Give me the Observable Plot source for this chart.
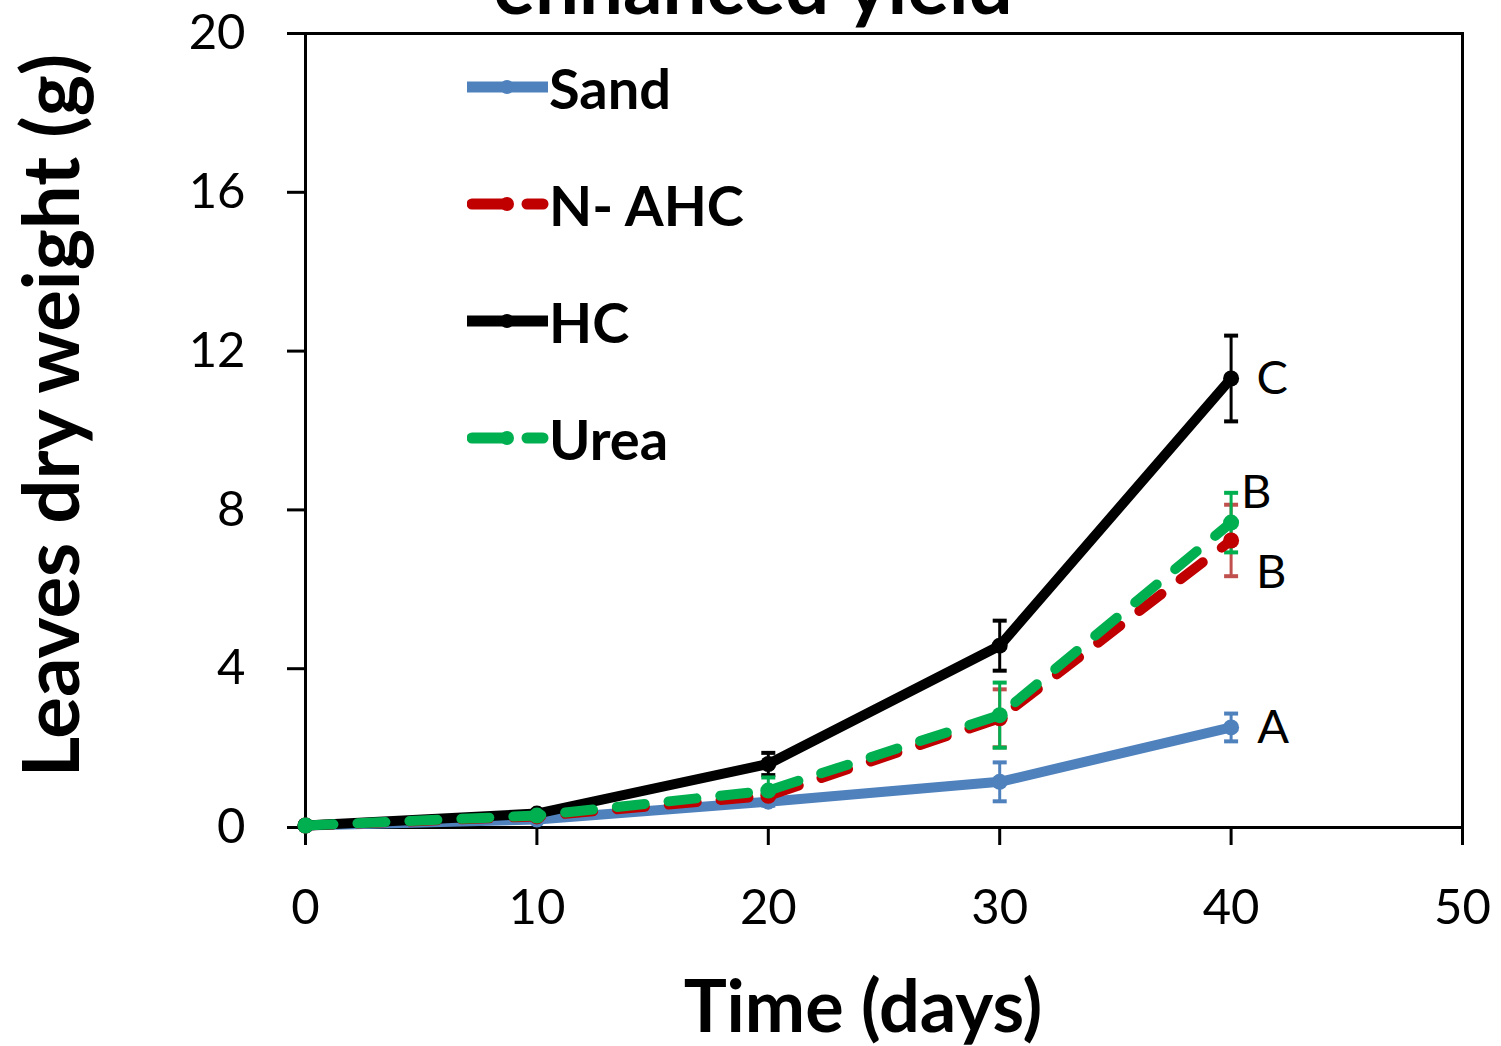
<!DOCTYPE html>
<html>
<head>
<meta charset="utf-8">
<script src="https://cdn.jsdelivr.net/npm/d3@7"></script>
<script src="https://cdn.jsdelivr.net/npm/@observablehq/plot@0.6"></script>
<style>
  body { margin: 0; background: #fff; }
  #wrap { position: relative; width: 1501px; height: 1046px; }
  #legend { position: absolute; left: 467px; top: 54px; font-family: Lato, sans-serif; font-weight: 700; font-size: 56px; }
  .row { display: flex; align-items: center; height: 66px; margin-bottom: 51px; }
  .row svg { display: block; }
</style>
</head>
<body>
<div id="wrap"><div id="chart"></div><div id="legend"></div></div>
<script>
const days = [0, 10, 20, 30, 40];
const seriesNames = ["Sand", "N- AHC", "HC", "Urea"];
const seriesColors = ["#4f81bd", "#c00000", "#000000", "#00b050"];
const errColors = ["#4f81bd", "#c0504d", "#000000", "#00b050"];
const dashed = [false, true, false, true];
const sand = [0.05, 0.2, 0.65, 1.15, 2.52];
const sandErr = [0.02, 0.05, 0.1, 0.49, 0.35];
const nahc = [0.05, 0.28, 0.8, 2.75, 7.23];
const nahcErr = [0.02, 0.05, 0.15, 0.73, 0.9];
const hc = [0.05, 0.35, 1.6, 4.58, 11.31];
const hcErr = [0.02, 0.05, 0.28, 0.63, 1.08];
const urea = [0.05, 0.3, 0.93, 2.83, 7.68];
const ureaErr = [0.02, 0.05, 0.33, 0.82, 0.75];
const letterText = ["C", "B", "B", "A"];
const letterY = [11.31, 8.42, 6.42, 2.5];
const letterDx = [41, 25, 40, 42];
const xTicks = [0, 10, 20, 30, 40, 50];
const yTicks = [0, 4, 8, 12, 16, 20];

const values = [sand, nahc, hc, urea];
const errs = [sandErr, nahcErr, hcErr, ureaErr];
const rows = [];
seriesNames.forEach((s, i) => days.forEach((d, j) => rows.push({
  series: s, idx: i, day: d, v: values[i][j], lo: values[i][j] - errs[i][j], hi: values[i][j] + errs[i][j]
})));
const letters = letterText.map((t, i) => ({t, y: letterY[i], dx: letterDx[i]}));

const cap = { draw(ctx) { ctx.moveTo(-7, 0); ctx.lineTo(7, 0); } };

const marks = [];
seriesNames.forEach((s, i) => {
  const d = rows.filter(r => r.idx === i);
  marks.push(Plot.ruleX(d, {x: "day", y1: "lo", y2: "hi", stroke: errColors[i], strokeWidth: 3}));
  marks.push(Plot.dot(d, {x: "day", y: "lo", symbol: cap, r: 7, stroke: errColors[i], strokeWidth: 4, fill: "none"}));
  marks.push(Plot.dot(d, {x: "day", y: "hi", symbol: cap, r: 7, stroke: errColors[i], strokeWidth: 4, fill: "none"}));
});
seriesNames.forEach((s, i) => {
  const d = rows.filter(r => r.idx === i);
  marks.push(Plot.line(d, {x: "day", y: "v", stroke: seriesColors[i], strokeWidth: 10,
    strokeLinecap: "round", strokeLinejoin: "round", strokeDasharray: dashed[i] ? "28,24" : null}));
  marks.push(Plot.dot(d, {x: "day", y: "v", r: 8, fill: seriesColors[i], stroke: "none"}));
});

const chart = Plot.plot({
  width: 1501, height: 1046,
  marginLeft: 305, marginRight: 39, marginTop: 33, marginBottom: 219,
  style: {fontFamily: "Lato, sans-serif", background: "#fff", color: "#000"},
  x: {domain: [0, 50]},
  y: {domain: [0, 20]},
  marks: [
    Plot.frame({stroke: "#000", strokeWidth: 3}),
    Plot.axisX({ticks: xTicks, tickSize: 18, tickPadding: 44, strokeWidth: 3, fontSize: 49, label: null, tickFormat: d => String(d)}),
    Plot.axisY({ticks: yTicks, tickSize: 18, tickPadding: 42, strokeWidth: 3, fontSize: 49, label: null, tickFormat: d => String(d)}),
    ...marks,
    ...letters.map(l => Plot.text([l], {x: () => 40, y: "y", text: "t", dx: l.dx, fontSize: 47, textAnchor: "middle", lineAnchor: "middle"})),
    Plot.text(["enhanced yield"], {frameAnchor: "top", dx: -131, dy: -20, textAnchor: "middle", lineAnchor: "bottom", fontSize: 78, fontWeight: 700}),
    Plot.text(["Leaves dry weight (g)"], {frameAnchor: "left", rotate: -90, dx: -251, dy: -15, textAnchor: "middle", lineAnchor: "middle", fontSize: 78, fontWeight: 700}),
    Plot.text(["Time (days)"], {frameAnchor: "bottom", dx: -21, dy: 181, textAnchor: "middle", lineAnchor: "middle", fontSize: 72, fontWeight: 700})
  ]
});
document.getElementById("chart").appendChild(chart);

const legend = d3.select("#legend");
seriesNames.forEach((s, i) => {
  const row = legend.append("div").attr("class", "row");
  const svg = row.append("svg").attr("width", 82).attr("height", 24);
  if (dashed[i]) {
    svg.append("line").attr("x1", 5).attr("x2", 40).attr("y1", 12).attr("y2", 12)
      .attr("stroke", seriesColors[i]).attr("stroke-width", 11).attr("stroke-linecap", "round");
    svg.append("line").attr("x1", 60).attr("x2", 76).attr("y1", 12).attr("y2", 12)
      .attr("stroke", seriesColors[i]).attr("stroke-width", 11).attr("stroke-linecap", "round");
  } else {
    svg.append("line").attr("x1", 0).attr("x2", 81).attr("y1", 12).attr("y2", 12)
      .attr("stroke", seriesColors[i]).attr("stroke-width", 11);
  }
  svg.append("circle").attr("cx", 40).attr("cy", 12).attr("r", 7).attr("fill", seriesColors[i]);
  row.append("span").text(s);
});
</script>
</body>
</html>
